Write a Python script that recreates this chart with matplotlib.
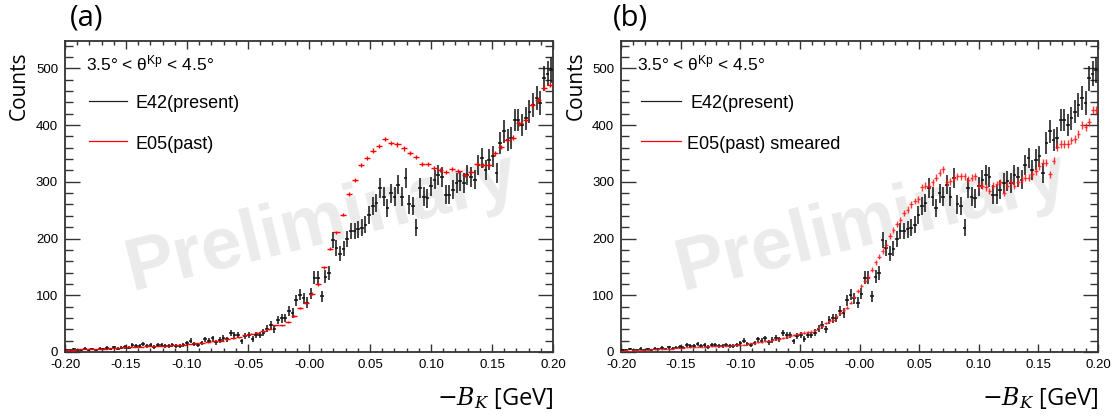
import numpy as np
import matplotlib
matplotlib.use('Agg')
import matplotlib.pyplot as plt
from matplotlib.ticker import MultipleLocator, FixedLocator, FixedFormatter

plt.rcParams['axes.unicode_minus'] = False
plt.rcParams['mathtext.fontset'] = 'custom'
plt.rcParams['mathtext.rm'] = 'Liberation Sans'
plt.rcParams['mathtext.it'] = 'Liberation Sans:italic'

## binning of the -B_K axis
x_lo, x_hi = -0.20, 0.20

## E42 (present), 134 bins, same data in both panels
e42_counts = [4, 3, 5, 3, 4, 6, 4, 5, 3, 6,
              5, 7, 5, 8, 6, 7, 9, 7, 12, 10,
              11, 14, 10, 12, 9, 12, 13, 11, 10, 13,
              11, 10, 12, 15, 20, 14, 12, 16, 22, 20,
              24, 17, 21, 25, 22, 33, 29, 30, 19, 28,
              30, 23, 30, 30, 34, 41, 48, 40, 56, 59,
              60, 72, 69, 91, 101, 95, 87, 103, 131, 131,
              98, 133, 139, 198, 183, 173, 182, 199, 213, 213,
              216, 219, 224, 242, 257, 263, 289, 274, 254,
              280, 274, 295, 274, 307, 260, 257, 219, 289, 274,
              271, 292, 304, 312, 309, 277, 277, 286, 298, 301,
              298, 312, 309, 304, 330, 342, 321, 339, 345, 315,
              368, 389, 374, 377, 409, 409, 400, 412, 424, 436,
              447, 439, 483, 491, 497]

## E05 (past), 80 bins
e05_counts = [4, 4, 5, 5, 5, 6, 6, 7, 7, 8,
              8, 9, 9, 10, 10, 11, 11, 12, 12, 13,
              14, 15, 16, 17, 19, 20, 22, 24, 26, 29,
              32, 34, 37, 40, 47, 47, 53, 63, 78, 87,
              103, 119, 149, 182, 211, 242, 278, 304, 330, 342,
              355, 363, 376, 368, 366, 359, 351, 344, 332, 332,
              325, 321, 318, 322, 319, 312, 318, 331, 329, 329,
              350, 361, 374, 378, 403, 409, 435, 445, 466, 471]

## E05 (past) smeared, 134 bins
e05_smeared = [2, 3, 2, 3, 3, 4, 4, 4, 5, 5,
               5, 5, 6, 6, 6, 7, 7, 7, 8, 8,
               8, 9, 9, 9, 10, 10, 10, 10, 11, 11,
               11, 12, 12, 13, 13, 14, 15, 16, 17, 18,
               19, 20, 21, 22, 23, 24, 26, 28, 30, 32,
               33, 34, 35, 36, 39, 42, 46, 51, 54, 57,
               63, 69, 74, 78, 87, 96, 107, 116, 125, 133,
               145, 158, 168, 178, 188, 205, 215, 225, 233, 245,
               251, 260, 266, 269, 290, 293, 293, 299, 307, 316,
               322, 299, 301, 307, 310, 310, 310, 304, 307, 310,
               293, 293, 290, 284, 293, 296, 299, 281, 293, 299,
               293, 299, 304, 307, 307, 313, 319, 328, 334, 334,
               313, 337, 361, 367, 367, 367, 373, 376, 385, 400,
               397, 406, 427, 427]

xtick_pos = [-0.20, -0.15, -0.10, -0.05, 0.00, 0.05, 0.10, 0.15, 0.20]
xtick_labels = ['-0.20', '-0.15', '-0.10', '-0.05', '-0.00', '0.05', '0.10', '0.15', '0.20']
ytick_pos = [0, 100, 200, 300, 400, 500]

panel_tags = ['(a)', '(b)']
red_labels = ['E05(past)', 'E05(past) smeared']
theta_text = '3.5° < $\\mathrm{\\theta^{Kp}}$ < 4.5°'


def draw_hist(ax, counts, color, err_scale, lw, alpha=1.0, z=3):
    n = len(counts)
    edges = np.linspace(x_lo, x_hi, n + 1)
    centers = 0.5 * (edges[1:] + edges[:-1])
    half = 0.5 * (edges[1] - edges[0])
    y = np.asarray(counts, dtype=float)
    ax.errorbar(centers, y, xerr=half, yerr=err_scale * np.sqrt(y), fmt='none',
                ecolor=color, elinewidth=lw, capsize=0, alpha=alpha, zorder=z)


def style_axes(ax):
    ax.set_xlim(x_lo, x_hi)
    ax.set_ylim(0, 548)
    ax.xaxis.set_major_locator(FixedLocator(xtick_pos))
    ax.xaxis.set_major_formatter(FixedFormatter(xtick_labels))
    ax.xaxis.set_minor_locator(MultipleLocator(0.01))
    ax.yaxis.set_major_locator(FixedLocator(ytick_pos))
    ax.yaxis.set_minor_locator(MultipleLocator(20))
    ax.tick_params(axis='both', which='both', direction='in', top=True, right=True,
                   width=1.0, color='#333333', labelsize=9.5, pad=5)
    ax.tick_params(axis='y', which='major', length=11)
    ax.tick_params(axis='y', which='minor', length=5.5)
    ax.tick_params(axis='x', which='major', length=6)
    ax.tick_params(axis='x', which='minor', length=3)
    for lab in ax.get_xticklabels() + ax.get_yticklabels():
        lab.set_fontfamily('Liberation Sans')
    for sp in ax.spines.values():
        sp.set_linewidth(1.3)
        sp.set_color('#333333')


fig = plt.figure(figsize=(11.15, 4.16), dpi=100)
ax_a = fig.add_axes([0.0583, 0.154, 0.4377, 0.747])
ax_b = fig.add_axes([0.557, 0.154, 0.4278, 0.747])

for idx, ax in enumerate([ax_a, ax_b]):
    style_axes(ax)
    # watermark
    ax.text(0.525, 0.415, 'Preliminary', transform=ax.transAxes, rotation=14,
            ha='center', va='center', fontsize=53, fontweight='bold',
            family='Liberation Sans', color='#ebebeb', zorder=0)
    draw_hist(ax, e42_counts, '#111111', 1.0, 1.1, z=3)
    if idx == 0:
        draw_hist(ax, e05_counts, '#ff0000', 0.2, 1.0, z=4)
    else:
        draw_hist(ax, e05_smeared, '#ff1a1a', 0.35, 1.0, alpha=0.85, z=4)

    ax.text(0.043 if idx == 0 else 0.034, 0.905, theta_text, transform=ax.transAxes,
            fontsize=12.5, family='Liberation Sans', ha='left', va='baseline')

    # legend
    lx0, lx1, tx = (0.049, 0.127, 0.145) if idx == 0 else (0.042, 0.126, 0.145)
    ax.plot([lx0, lx1], [0.807, 0.807], transform=ax.transAxes, color='#222222', lw=0.9)
    ax.text(tx, 0.800, 'E42(present)', transform=ax.transAxes, fontsize=13,
            family='Liberation Sans', va='center')
    ax.plot([lx0, lx1], [0.678, 0.678], transform=ax.transAxes, color='#ff0000', lw=0.9)
    ax.text(tx if idx == 0 else 0.138, 0.666, red_labels[idx], transform=ax.transAxes,
            fontsize=13, family='Liberation Sans', va='center')

    ax.set_ylabel('Counts', fontsize=15, family='Open Sans')
    ax.yaxis.set_label_coords(-0.072, 0.858)
    ax.set_xlabel(r'$-B_K$ [GeV]', fontsize=17, family='Open Sans',
                  math_fontfamily='dejavuserif', loc='right', labelpad=10)

fig.text(0.063, 0.957, panel_tags[0], fontsize=21, family='Open Sans', va='center')
fig.text(0.550, 0.957, panel_tags[1], fontsize=21, family='Open Sans', va='center')

fig.savefig('out.png', dpi=100)
